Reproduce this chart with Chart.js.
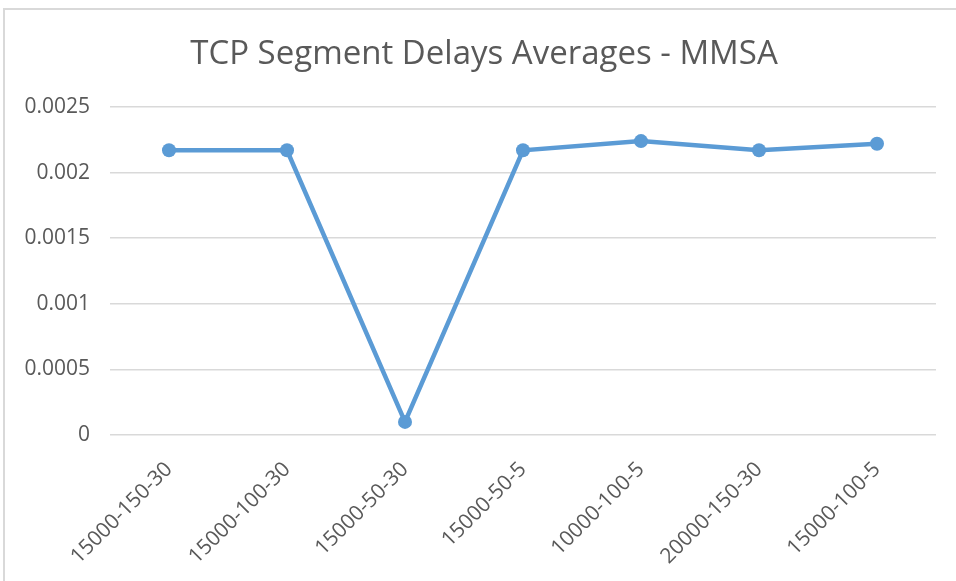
<!DOCTYPE html>
<html>
<head>
<meta charset="utf-8">
<script src="https://cdn.jsdelivr.net/npm/chart.js@4"></script>
<style>
  html, body { margin: 0; padding: 0; background: #fff; }
  #frame { position: absolute; left: 3px; top: 8px; width: 960px; height: 590px;
           border: 2px solid #d9d9d9; box-sizing: border-box; }
  #wrap { position: absolute; left: 0; top: 0; width: 956px; height: 581px; }
</style>
</head>
<body>
<div id="frame"></div>
<div id="wrap"><canvas id="delayChart"></canvas></div>
<script>
// chart data
const categories = ['15000-150-30', '15000-100-30', '15000-50-30', '15000-50-5',
                    '10000-100-5', '20000-150-30', '15000-100-5'];
const delayAverages = [0.00217, 0.00217, 0.0001, 0.00217, 0.00224, 0.00217, 0.00222];
const yTicks = [0, 0.0005, 0.001, 0.0015, 0.002, 0.0025];

const blue = '#5b9bd5';
const textGrey = '#595959';

// the title sits a bit right of the canvas centre in the original
const shiftTitle = {
  id: 'shiftTitle',
  afterLayout(chart) {
    if (chart.titleBlock) {
      chart.titleBlock.left += 32;
    }
  }
};

const ctx = document.getElementById('delayChart').getContext('2d');

new Chart(ctx, {
  type: 'line',
  data: {
    labels: categories,
    datasets: [{
      label: 'TCP Segment Delays Averages',
      data: delayAverages,
      borderColor: blue,
      backgroundColor: blue,
      borderWidth: 4.5,
      pointRadius: 7,
      pointBorderWidth: 0,
      pointBackgroundColor: blue,
      tension: 0,
      fill: false
    }]
  },
  options: {
    responsive: true,
    maintainAspectRatio: false,
    animation: false,
    layout: { padding: { left: 0, right: 20, top: 0, bottom: 0 } },
    plugins: {
      legend: { display: false },
      tooltip: { enabled: false },
      title: {
        display: true,
        text: 'TCP Segment Delays Averages - MMSA',
        color: textGrey,
        font: { family: 'Open Sans', size: 33, weight: 'normal' },
        padding: { top: 35, bottom: 32.4 }
      }
    },
    scales: {
      x: {
        offset: true,
        grid: { display: false },
        border: { display: false },
        ticks: {
          color: textGrey,
          font: { family: 'Open Sans', size: 21 },
          minRotation: 45,
          maxRotation: 45,
          autoSkip: false,
          padding: 14
        },
        afterFit: (scale) => { scale.height = 146; }
      },
      y: {
        min: 0,
        max: 0.0025,
        afterBuildTicks: (scale) => { scale.ticks = yTicks.map(v => ({ value: v })); },
        grid: { color: '#d9d9d9', lineWidth: 1.5, drawTicks: false },
        border: { display: false },
        ticks: {
          color: textGrey,
          font: { family: 'Open Sans', size: 21 },
          padding: 20,
          callback: (v) => String(v)
        },
        afterFit: (scale) => { scale.width = 110; }
      }
    }
  },
  plugins: [shiftTitle]
});
</script>
</body>
</html>
